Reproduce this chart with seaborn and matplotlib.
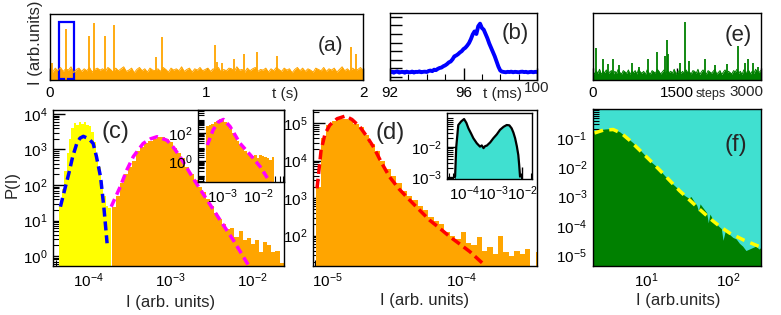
import numpy as np
import matplotlib
matplotlib.use("Agg")
import matplotlib.pyplot as plt
import seaborn as sns
from matplotlib.patches import Rectangle
from matplotlib.transforms import blended_transform_factory
from matplotlib.ticker import FixedLocator, LogLocator, NullFormatter

# ---------------- values ----------------
# (a) intensity trace 0-2 s : top of the noise band (% of panel height) + spikes
a_band = [
    16, 12, 18, 14, 19, 13, 17, 15, 20, 11, 16, 18, 13, 17, 14, 19, 12, 16, 18, 15,
    17, 13, 19, 16, 12, 18, 14, 17, 20, 13, 15, 18, 11, 16, 19, 14, 17, 12, 18, 15,
    14, 17, 13, 19, 16, 12, 18, 15, 17, 14, 20, 13, 16, 18, 12, 17, 15, 19, 14, 16,
    18, 13, 17, 15, 19, 12, 16, 14, 18, 17, 13, 20, 15, 16, 12, 18, 14, 17, 19, 13,
    16, 15, 18, 12, 17, 14, 19, 16, 13, 18, 15, 17, 11, 16, 19, 14, 18, 13, 17, 15,
    12, 18, 16, 14, 19, 13, 17, 15, 18, 12, 16, 20, 14, 17, 13, 18, 15, 16, 19, 14,
]
a_spike_t = [0.011, 0.100, 0.249, 0.281, 0.351, 0.411, 0.679, 0.716, 1.054,
             1.069, 1.097, 1.178, 1.242, 1.321, 1.449, 1.921, 1.953]
a_spike_h = [0.26, 0.77, 0.67, 0.87, 0.67, 0.84, 0.35, 0.65, 0.53,
             0.27, 0.26, 0.32, 0.40, 0.43, 0.36, 0.50, 0.40]
a_box_t = [0.058, 0.153]
a_box_y = [0.015, 0.88]

# (b) one burst, 92-100 ms, every 0.1 ms
b_I = [
    .55, .62, .50, .60, .65, .52, .58, .60, .50, .62,
    .57, .55, .63, .52, .60, .58, .65, .55, .60, .62,
    .58, .70, .75, .68, .85, .80, .95, 1.05, 1.10, 1.25,
    1.35, 1.50, 1.70, 1.80, 2.05, 2.40, 2.50, 2.65, 2.85, 3.00,
    3.25, 3.40, 3.65, 3.95, 4.40, 4.95, 5.30, 5.00, 5.90, 6.20,
    5.70, 5.50, 5.00, 4.50, 3.90, 3.40, 2.90, 2.40, 1.80, 1.20,
    .75, .62, .58, .55, .60, .58, .62, .55, .60, .58,
    .55, .60, .62, .57, .60, .53, .58, .60, .55, .60,
    .58,
]

# (e) model trace, 0-3000 steps : top of the noise band (%) + spikes
e_band = [
    12, 9, 14, 10, 16, 8, 13, 11, 15, 9, 12, 14, 8, 13, 10, 16, 11, 9, 14, 12,
    10, 15, 8, 13, 11, 14, 9, 16, 12, 10, 13, 8, 15, 11, 9, 14, 12, 10, 16, 13,
    9, 12, 15, 8, 14, 11, 13, 10, 16, 9, 12, 14, 10, 13, 8, 15, 11, 12, 9, 14,
    13, 10, 16, 8, 12, 15, 11, 9, 14, 12, 10, 13, 16, 9, 11, 14, 8, 12, 15, 10,
    13, 11, 9, 14, 12, 16, 10, 13, 8, 15, 11, 12, 14, 9, 13, 10, 16, 12, 11, 14,
]
e_spike_t = [61, 179, 269, 358, 466, 706, 824, 986, 1147, 1285, 1326, 1351,
             1554, 1643, 1720, 2002, 2181, 2391, 2599, 2719, 2778, 2868, 2958]
e_spike_h = [.47, .32, .24, .31, .22, .26, .20, .32, .42, .36, .60, .39,
             .25, .87, .29, .32, .22, .24, .50, .25, .32, .25, .20]

# (c) P(I), log10 values
c_yel_logP = [1.4, 1.9, 2.4, 2.9, 3.3, 3.6, 3.75, 3.7, 3.78, 3.72, 3.76,
              3.7, 3.65, 3.5, 3.2, 2.85, 2.5, 2.1, 1.7, 1.4, 1.35]
c_org_logP = [1.39, 1.7, 2.05, 2.3, 2.5, 2.68, 2.95, 3.08, 3.18, 3.25, 3.3,
              3.36, 3.35, 3.3, 3.2, 3.05, 2.9, 2.75, 2.5, 2.3, 2.15, 1.95,
              1.8, 1.6, 1.42, 1.22, 1.05, 0.9, 0.75, 0.8, 0.55, 0.7, 0.45,
              0.5, 0.35, 0.45, 0.12, 0.4, 0.3, 0.1, 0.15, -0.2]
c_blue_logI = [-4.34, -4.29, -4.24, -4.19, -4.14, -4.10, -4.06, -4.02, -3.98,
               -3.94, -3.90, -3.85, -3.81, -3.77]
c_blue_logP = [1.39, 1.85, 2.3, 2.8, 3.17, 3.32, 3.37, 3.33, 3.27,
               3.17, 2.8, 2.23, 1.39, 0.36]
c_mag_logI = [-3.72, -3.61, -3.53, -3.45, -3.33, -3.24, -3.16, -3.04, -2.96,
              -2.88, -2.72, -2.55, -2.39, -2.23, -2.06, -2.0]
c_mag_logP = [1.39, 1.95, 2.42, 2.8, 3.17, 3.3, 3.36, 3.26, 3.06,
              2.8, 2.19, 1.58, 1.01, 0.45, -0.2, -0.45]
# inset of (c)
ci_org_logP = [2.5, 2.6, 2.7, 2.8, 2.9, 3.0, 3.0, 2.85, 2.6, 2.3, 2.0, 1.75,
               1.45, 1.15, 0.95, 0.75, 0.55, 0.4, 0.35, 0.45, 0.2, 0.45, 0.4,
               0.3, 0.2, 0.1, 0.3]
ci_mag_logI = [-3.41, -3.25, -3.10, -2.96, -2.78, -2.5, -2.31, -2.13, -1.94, -1.85, -1.67]
ci_mag_logP = [1.16, 2.24, 2.83, 3.0, 2.5, 1.28, 0.73, 0.2, -0.4, -0.76, -1.5]

# (d)
d_org_logP = [3.3, 4.6, 4.95, 5.05, 5.1, 5.1, 5.08, 4.98, 4.9, 4.68,
              4.45, 4.25, 4.0, 3.78, 3.6, 3.4, 3.2, 3.05, 2.95, 2.8,
              2.68, 2.5, 2.38, 2.3, 2.1, 2.0, 1.9, 2.1, 1.8, 1.75,
              1.95, 1.6, 1.7, 1.5, 2.0, 1.55, 1.45, 1.6, 1.5, 1.65,
              1.2, 1.55]
d_fit_logI = [-5.08, -5.05, -5.02, -4.985, -4.93, -4.87, -4.82, -4.76, -4.71,
              -4.66, -4.60, -4.54, -4.47, -4.39, -4.31, -4.24, -4.16, -4.09,
              -4.01, -3.94, -3.83]
d_fit_logP = [3.26, 4.28, 4.72, 4.95, 5.12, 5.19, 5.1, 4.9, 4.65,
              4.37, 3.95, 3.57, 3.25, 2.95, 2.66, 2.41, 2.18, 1.97,
              1.76, 1.57, 1.21]
# inset of (d)
di_logI = [-4.31, -4.27, -4.20, -4.10, -4.0, -3.92, -3.85, -3.76, -3.68, -3.56,
           -3.45, -3.39, -3.33, -3.27, -3.22, -3.10, -2.99, -2.87, -2.76, -2.64,
           -2.53, -2.44, -2.36, -2.30, -2.24, -2.18, -2.13, -2.10, -2.07]
di_logP = [-2.99, -2.0, -1.27, -1.15, -1.07, -1.2, -1.38, -1.55, -1.71, -1.88,
           -1.99, -1.95, -2.04, -1.97, -1.96, -1.85, -1.71, -1.58, -1.43, -1.33,
           -1.27, -1.28, -1.38, -1.52, -1.71, -1.98, -2.27, -2.6, -2.99]

# (f)
f_logI = [0.35, 0.40, 0.45, 0.50, 0.56, 0.62, 0.68, 0.76, 0.84, 0.92,
          0.97, 1.05, 1.12, 1.17, 1.25, 1.30, 1.37, 1.42, 1.48, 1.52,
          1.55, 1.58, 1.62, 1.64, 1.66, 1.70, 1.74, 1.76, 1.78, 1.82,
          1.85, 1.88, 1.92, 1.94, 1.97, 2.02, 2.06, 2.10, 2.14, 2.18,
          2.22, 2.26, 2.30, 2.34, 2.38, 2.40]
f_logP = [-0.75, -0.72, -0.70, -0.68, -0.67, -0.70, -0.78, -0.96, -1.15, -1.38,
          -1.53, -1.78, -1.95, -2.1, -2.35, -2.5, -2.68, -2.85, -2.98, -3.05,
          -3.0, -3.14, -3.3, -3.5, -3.25, -3.4, -3.55, -3.9, -3.6, -3.8,
          -3.85, -4.0, -4.1, -4.5, -4.15, -4.3, -4.4, -4.45, -4.6, -4.7,
          -4.85, -4.8, -4.75, -4.7, -4.8, -4.75]
f_fit_logI = [0.37, 0.48, 0.6, 0.7, 0.8, 0.92, 1.05, 1.17, 1.29, 1.41, 1.54,
              1.66, 1.78, 1.90, 2.02, 2.2, 2.39]
f_fit_logP = [-0.82, -0.72, -0.70, -0.83, -1.07, -1.4, -1.76, -2.1, -2.45,
              -2.8, -3.14, -3.45, -3.75, -4.02, -4.25, -4.5, -4.72]

ORANGE = "#FFA500"
YELLOW = "#FFFF00"
TURQ = "#40E0D0"
GREEN = "#008000"

# ---------------- style ----------------
sns.set_style("ticks")
plt.rcParams["font.family"] = ["Liberation Sans", "DejaVu Sans"]
plt.rcParams["mathtext.fontset"] = "custom"
plt.rcParams["mathtext.rm"] = "Liberation Sans"
plt.rcParams["mathtext.default"] = "rm"


def style(ax, size=11):
    ax.tick_params(which="both", direction="in", top=False, right=False,
                   labelsize=size, colors="black")
    ax.tick_params(which="major", length=8.5, width=1, pad=4)
    ax.tick_params(which="minor", length=4, width=0.8)
    for sp in ax.spines.values():
        sp.set_color("black")
        sp.set_linewidth(1.0)


def logaxes(ax, xlim, ylim):
    ax.set_xscale("log")
    ax.set_yscale("log")
    ax.set_xlim(10 ** xlim[0], 10 ** xlim[1])
    ax.set_ylim(10 ** ylim[0], 10 ** ylim[1])
    for axis in (ax.xaxis, ax.yaxis):
        axis.set_minor_locator(LogLocator(10, subs=np.arange(2, 10), numticks=40))
        axis.set_minor_formatter(NullFormatter())


def log_edges(start, step, n):
    c = start + step * np.arange(n)
    return 10 ** np.append(c - step / 2, c[-1] + step / 2)


def dashed(ax, logx, logy, color, lw, dash):
    sns.lineplot(x=10 ** np.array(logx), y=10 ** np.array(logy), ax=ax,
                 color=color, lw=lw, estimator=None, sort=False)
    ax.lines[-1].set_dashes(dash)


def trace(ax, t_end, band, spike_t, spike_h, color):
    t = np.linspace(0, t_end, len(band))
    top = np.array(band) / 100
    ax.fill_between(t, 0, top, color=color, lw=0)
    sns.lineplot(x=t, y=top, ax=ax, color=color, lw=0.7, estimator=None, sort=False)
    ax.vlines(spike_t, 0, spike_h, color=color, lw=1.3)


fig = plt.figure(figsize=(7.81, 3.15), dpi=100)
ax_a = fig.add_axes([0.064, 0.746, 0.401, 0.2095])
ax_b = fig.add_axes([0.4994, 0.746, 0.1882, 0.213])
ax_e = fig.add_axes([0.759, 0.746, 0.215, 0.213])
ax_c = fig.add_axes([0.0679, 0.1556, 0.2958, 0.495])
ax_ci = fig.add_axes([0.2535, 0.4222, 0.110, 0.2286])
ax_d = fig.add_axes([0.4008, 0.1556, 0.2868, 0.495])
ax_di = fig.add_axes([0.5723, 0.4317, 0.1088, 0.2095])
ax_f = fig.add_axes([0.759, 0.1556, 0.215, 0.498])

# ---- (a)
trace(ax_a, 2, a_band, a_spike_t, a_spike_h, ORANGE)
ax_a.add_patch(Rectangle((a_box_t[0], a_box_y[0]), a_box_t[1] - a_box_t[0],
                         a_box_y[1] - a_box_y[0], fill=False, ec="blue", lw=1.6))
ax_a.set_xlim(0, 2)
ax_a.set_ylim(0, 1)
ax_a.set_yticks([])
ax_a.set_xticks([0, 1, 2])
ax_a.set_xticks([0.5, 1.5], minor=True)
style(ax_a)
trans = blended_transform_factory(ax_a.transData, ax_a.transAxes)
ax_a.text(1.5, -0.1, "t (s)", transform=trans, ha="center", va="top", fontsize=11)
ax_a.text(0.895, 0.52, "(a)", transform=ax_a.transAxes, ha="center", va="center", fontsize=15)
fig.text(0.045, 0.865, "I (arb.units)", rotation=90, ha="center", va="center", fontsize=12)

# ---- (b)
b_t = np.round(np.linspace(92, 100, len(b_I)), 1)
sns.lineplot(x=b_t, y=b_I, ax=ax_b, color="blue", lw=2.8, estimator=None, sort=False)
ax_b.set_xlim(92, 100)
ax_b.set_ylim(-0.35, 7.45)
ax_b.set_xticks([92, 96, 100])
ax_b.set_xticklabels(["92", "96", ""])
ax_b.set_xticks(range(93, 100), minor=True)
ax_b.set_yticks(range(8))
ax_b.set_yticklabels([])
style(ax_b)
trans = blended_transform_factory(ax_b.transData, ax_b.transAxes)
ax_b.text(98.1, -0.1, "t (ms)", transform=trans, ha="center", va="top", fontsize=11)
ax_b.text(100, -0.02, "100", transform=trans, ha="center", va="top", fontsize=11)
ax_b.text(0.85, 0.7, "(b)", transform=ax_b.transAxes, ha="center", va="center", fontsize=16)

# ---- (e)
trace(ax_e, 3000, e_band, e_spike_t, e_spike_h, GREEN)
ax_e.set_xlim(0, 3000)
ax_e.set_ylim(0, 1)
ax_e.set_yticks([])
ax_e.set_xticks([0, 1500, 3000])
ax_e.set_xticklabels(["0", "1500", ""])
ax_e.set_xticks([750, 2250], minor=True)
style(ax_e)
trans = blended_transform_factory(ax_e.transData, ax_e.transAxes)
ax_e.text(2110, -0.12, "steps", transform=trans, ha="center", va="top", fontsize=9)
ax_e.text(2740, -0.075, "3000", transform=trans, ha="center", va="top", fontsize=11)
ax_e.text(0.865, 0.67, "(e)", transform=ax_e.transAxes, ha="center", va="center", fontsize=16)

# ---- (c)
logaxes(ax_c, (-4.43, -1.61), (-0.28, 4.11))
ax_c.stairs(10 ** np.array(c_yel_logP), log_edges(-4.34, 0.03, len(c_yel_logP)),
            fill=True, color=YELLOW, lw=0, baseline=1e-3)
ax_c.stairs(10 ** np.array(c_org_logP), log_edges(-3.69, 0.05, len(c_org_logP)),
            fill=True, color=ORANGE, lw=0, baseline=1e-3)
dashed(ax_c, c_blue_logI, c_blue_logP, "blue", 2.5, [2.6, 1.4])
dashed(ax_c, c_mag_logI, c_mag_logP, "#FF00FF", 2.5, [2.4, 1.4])
style(ax_c)
ax_c.text(0.27, 0.86, "(c)", transform=ax_c.transAxes, ha="center", va="center", fontsize=17)
fig.text(0.016, 0.413, "P(I)", rotation=90, ha="center", va="center", fontsize=12)
fig.text(0.218, 0.04, "I (arb. units)", ha="center", va="center", fontsize=12)

logaxes(ax_ci, (-3.67, -1.28), (-1.5, 3.68))
ax_ci.stairs(10 ** np.array(ci_org_logP), log_edges(-3.40, 0.07, len(ci_org_logP)),
             fill=True, color=ORANGE, lw=0, baseline=1e-3)
dashed(ax_ci, ci_mag_logI, ci_mag_logP, "#FF00FF", 2.5, [2.2, 1.3])
ax_ci.yaxis.set_major_locator(FixedLocator([1, 100]))
ax_ci.xaxis.set_major_locator(FixedLocator([1e-3, 1e-2]))
style(ax_ci)

# ---- (d)
logaxes(ax_d, (-5.11, -3.44), (1.19, 5.35))
ax_d.stairs(10 ** np.array(d_org_logP), log_edges(-5.07, 0.04, len(d_org_logP)),
            fill=True, color=ORANGE, lw=0, baseline=1e-3)
dashed(ax_d, d_fit_logI, d_fit_logP, "red", 2.5, [2.8, 1.4])
ax_d.xaxis.set_major_locator(FixedLocator([1e-5, 1e-4]))
style(ax_d)
ax_d.text(0.344, 0.85, "(d)", transform=ax_d.transAxes, ha="center", va="center", fontsize=17)
fig.text(0.544, 0.045, "I (arb. units)", ha="center", va="center", fontsize=12)

logaxes(ax_di, (-4.59, -1.66), (-3.07, -0.87))
ax_di.fill_between(10 ** np.array(di_logI), 10 ** np.array(di_logP), 1e-6, color=TURQ, lw=0)
sns.lineplot(x=10 ** np.array(di_logI), y=10 ** np.array(di_logP), ax=ax_di,
             color="black", lw=1.6, estimator=None, sort=False)
ax_di.xaxis.set_major_locator(FixedLocator([1e-4, 1e-3, 1e-2]))
ax_di.yaxis.set_major_locator(FixedLocator([1e-3, 1e-2]))
style(ax_di)

# ---- (f)
logaxes(ax_f, (0.35, 2.4), (-5.38, 0.0))
ax_f.set_facecolor(TURQ)
ax_f.fill_between(10 ** np.array(f_logI), 10 ** np.array(f_logP), 1e-8, color=GREEN, lw=0)
dashed(ax_f, f_fit_logI, f_fit_logP, YELLOW, 2.5, [2.6, 1.8])
ax_f.yaxis.set_major_locator(FixedLocator([1e-5, 1e-4, 1e-3, 1e-2, 1e-1]))
ax_f.xaxis.set_major_locator(FixedLocator([10, 100]))
style(ax_f)
ax_f.text(0.85, 0.77, "(f)", transform=ax_f.transAxes, ha="center", va="center", fontsize=17)
fig.text(0.868, 0.045, "I (arb.units)", ha="center", va="center", fontsize=12)

fig.savefig("out.png", dpi=100)
